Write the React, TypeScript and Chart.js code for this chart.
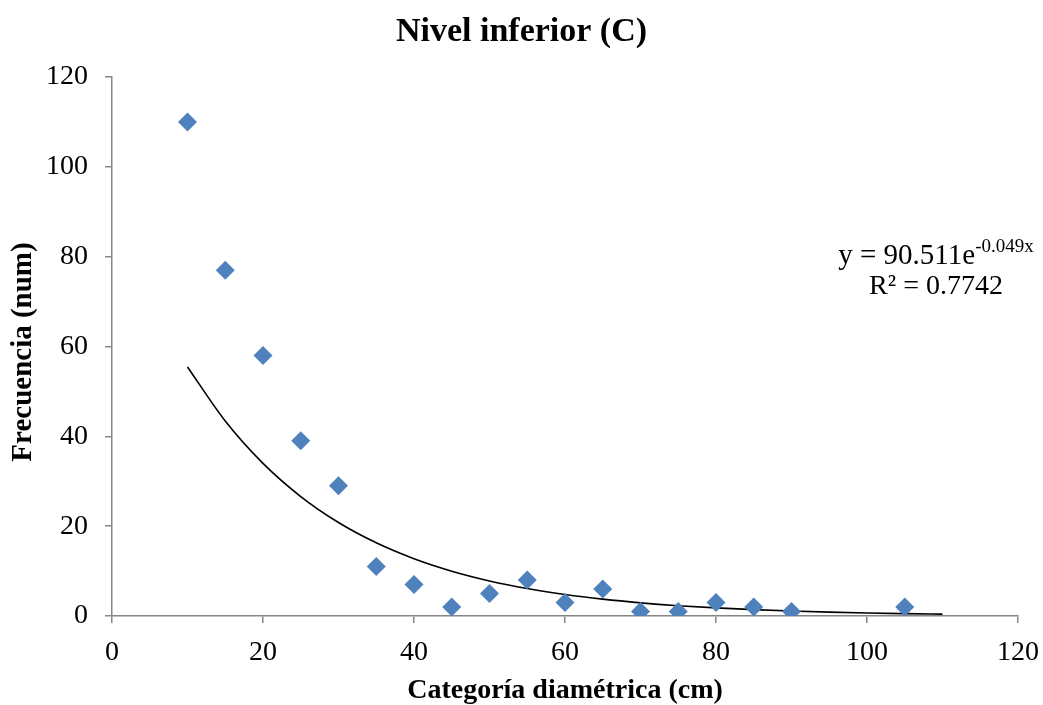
import { useEffect, useRef } from 'react';
import { Chart, registerables } from 'chart.js';

Chart.register(...registerables);

// Observed data (diameter class in cm, frequency)
const diameterClasses = [10, 15, 20, 25, 30, 35, 40, 45, 50, 55, 60, 65, 70, 75, 80, 85, 90, 105];
const frequencies = [110, 77, 58, 39, 29, 11, 7, 2, 5, 8, 3, 6, 1, 1, 3, 2, 1, 2];

// Exponential trendline, values
const trendX = [10, 15, 20, 25, 30, 35, 40, 45, 50, 55, 60, 65, 70, 75, 80, 85, 90, 95, 100, 105, 110];
const trendY = [55.45, 43.4, 33.97, 26.59, 20.81, 16.29, 12.75, 9.98, 7.81, 6.11, 4.79, 3.75, 2.93, 2.29, 1.8, 1.41, 1.1, 0.86, 0.67, 0.53, 0.41];

const chartTitle = 'Nivel inferior (C)';
const xAxisTitle = 'Categoría diamétrica (cm)';
const yAxisTitle = 'Frecuencia (num)';
const equationMain = 'y = 90.511e';
const equationExp = '-0.049x';
const rSquared = 'R² = 0.7742';

const FONT = "'Liberation Serif', 'Times New Roman', serif";
const AXIS_COLOR = '#868686';

const textPlugin = {
  id: 'extraText',
  afterDatasetsDraw(chart: any) {
    const ctx = chart.ctx;
    ctx.save();
    ctx.fillStyle = '#000';
    ctx.textBaseline = 'alphabetic';
    ctx.font = `29px ${FONT}`;
    const mainW = ctx.measureText(equationMain).width;
    ctx.font = `19px ${FONT}`;
    const expW = ctx.measureText(equationExp).width;
    const cx = 936;
    const left = cx - (mainW + expW) / 2;
    ctx.font = `29px ${FONT}`;
    ctx.textAlign = 'left';
    ctx.fillText(equationMain, left, 264);
    ctx.font = `19px ${FONT}`;
    ctx.fillText(equationExp, left + mainW, 252);
    ctx.font = `28px ${FONT}`;
    ctx.textAlign = 'center';
    ctx.fillText(rSquared, cx, 294);
    ctx.restore();

    // y-axis title
    ctx.save();
    ctx.translate(24, 352);
    ctx.rotate(-Math.PI / 2);
    ctx.fillStyle = '#000';
    ctx.font = `bold 29px ${FONT}`;
    ctx.textAlign = 'center';
    ctx.textBaseline = 'middle';
    ctx.fillText(yAxisTitle, 0, 0);
    ctx.restore();
  },
};

export default function App() {
  const canvasRef = useRef<HTMLCanvasElement | null>(null);

  useEffect(() => {
    if (!canvasRef.current) return;
    const scatterData = diameterClasses.map((x, i) => ({ x, y: frequencies[i] }));
    const trendData = trendX.map((x, i) => ({ x, y: trendY[i] }));
    const tickFont = { family: FONT, size: 28 };
    const chart = new Chart(canvasRef.current, {
      type: 'scatter',
      data: {
        datasets: [
          {
            type: 'line',
            data: trendData,
            borderColor: '#000000',
            borderWidth: 1.6,
            pointRadius: 0,
            fill: false,
            showLine: true,
            cubicInterpolationMode: 'monotone',
            order: 2,
          } as any,
          {
            data: scatterData,
            pointStyle: 'rectRot',
            pointRadius: 9.5,
            backgroundColor: '#4F81BD',
            borderColor: '#4F81BD',
            borderWidth: 0,
            order: 1,
          },
        ],
      },
      options: {
        responsive: false,
        maintainAspectRatio: false,
        animation: false,
        devicePixelRatio: 1,
        layout: { padding: 0 },
        plugins: {
          legend: { display: false },
          tooltip: { enabled: false },
          title: {
            display: true,
            text: chartTitle,
            color: '#000',
            font: { family: FONT, size: 34, weight: 'bold' },
            padding: { top: 12, bottom: 24.2 },
          },
        },
        scales: {
          x: {
            type: 'linear',
            min: 0,
            max: 120,
            ticks: { stepSize: 20, color: '#000', font: tickFont, padding: 13, maxRotation: 0 },
            grid: { display: true, drawOnChartArea: false, tickLength: 7, color: AXIS_COLOR, lineWidth: 1.5 },
            border: { display: true, color: AXIS_COLOR, width: 1.5 },
            title: {
              display: true,
              text: xAxisTitle,
              color: '#000',
              font: { family: FONT, size: 28, weight: 'bold', lineHeight: 1 },
              padding: { top: 0, bottom: 0 },
            },
            afterFit(scale: any) {
              scale.height = 89;
              scale.paddingRight = 25;
              scale.paddingLeft = 0;
            },
          },
          y: {
            type: 'linear',
            min: 0,
            max: 120,
            ticks: { stepSize: 20, color: '#000', font: tickFont, padding: 17 },
            grid: { display: true, drawOnChartArea: false, tickLength: 7, color: AXIS_COLOR, lineWidth: 1.5 },
            border: { display: true, color: AXIS_COLOR, width: 1.5 },
            title: { display: false },
            afterFit(scale: any) {
              scale.width = 112;
            },
          },
        },
      },
      plugins: [textPlugin],
    } as any);
    return () => chart.destroy();
  }, []);

  return (
    <div style={{ position: 'fixed', left: 0, top: 0, width: 1043, height: 705, background: '#fff' }}>
      <canvas ref={canvasRef} width={1043} height={705} style={{ width: 1043, height: 705, display: 'block' }} />
    </div>
  );
}
